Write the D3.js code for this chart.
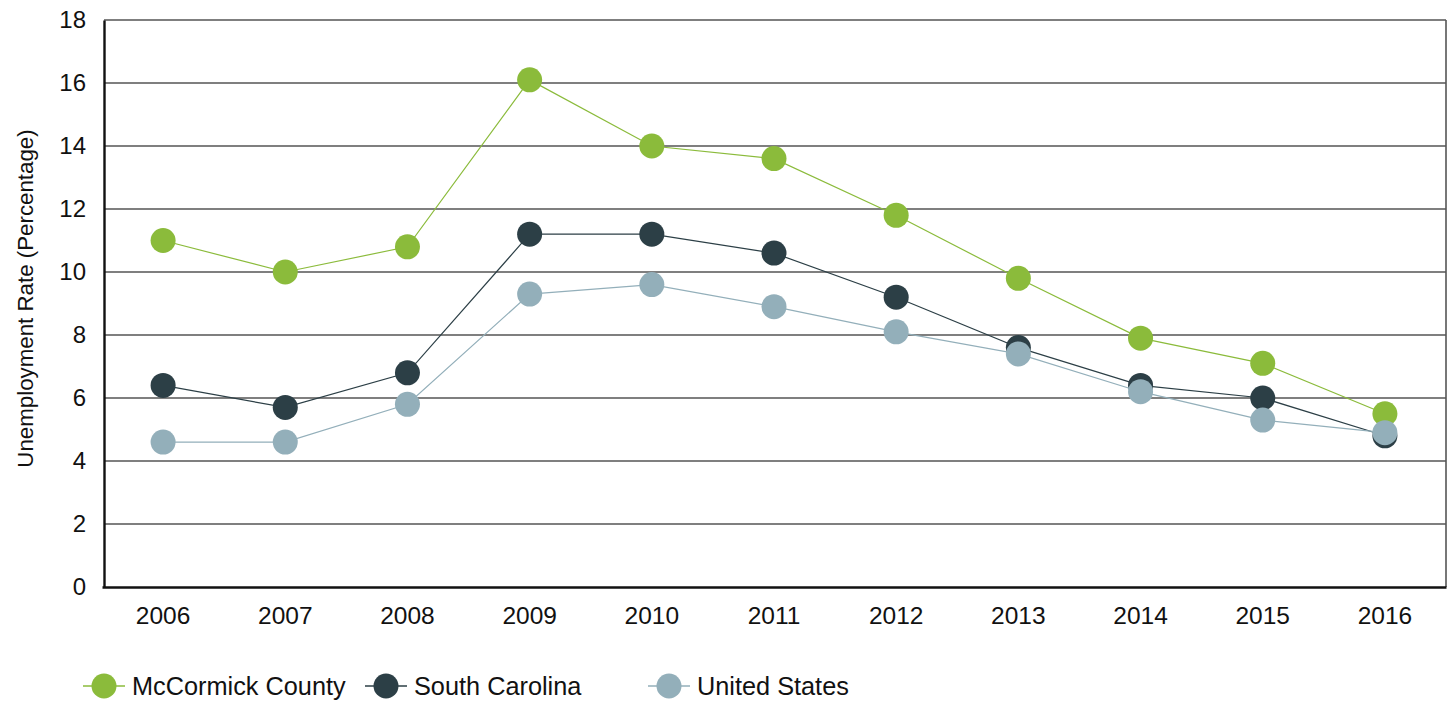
<!DOCTYPE html>
<html>
<head>
<meta charset="utf-8">
<script src="https://cdn.jsdelivr.net/npm/d3@7"></script>
<style>
  body { margin: 0; background: #fff; }
  svg { display: block; font-family: "Liberation Sans", Arial, sans-serif; }
</style>
</head>
<body>
<svg id="chart" width="1449" height="702"></svg>
<script>
// Annual unemployment rates, 2006–2016
const years = ["2006","2007","2008","2009","2010","2011","2012","2013","2014","2015","2016"];
const mccormick = [11.0, 10.0, 10.8, 16.1, 14.0, 13.6, 11.8, 9.8, 7.9, 7.1, 5.5];
const southCarolina = [6.4, 5.7, 6.8, 11.2, 11.2, 10.6, 9.2, 7.6, 6.4, 6.0, 4.8];
const unitedStates = [4.6, 4.6, 5.8, 9.3, 9.6, 8.9, 8.1, 7.4, 6.2, 5.3, 4.9];
const yTicks = [0, 2, 4, 6, 8, 10, 12, 14, 16, 18];
const seriesNames = ["McCormick County", "South Carolina", "United States"];
const seriesColors = ["#8bbb3b", "#2c3f46", "#93afba"];

const series = [mccormick, southCarolina, unitedStates].map((vals, i) => ({
  name: seriesNames[i], color: seriesColors[i], values: vals
}));

const svg = d3.select("#chart");
const plotLeft = 104, plotRight = 1446, plotTop = 20, plotBottom = 587;
const fontFam = "'Liberation Sans', Arial, sans-serif";

const x = d3.scaleBand().domain(years).range([plotLeft - 2, plotRight]);
const y = d3.scaleLinear().domain([0, 18]).range([plotBottom, plotTop]);

// horizontal gridlines
svg.append("g")
  .selectAll("line")
  .data(yTicks.filter(t => t > 0))
  .join("line")
  .attr("x1", plotLeft).attr("x2", plotRight)
  .attr("y1", d => y(d)).attr("y2", d => y(d))
  .attr("stroke", "#555").attr("stroke-width", 1.6);

// right border
svg.append("line")
  .attr("x1", plotRight).attr("x2", plotRight).attr("y1", plotTop).attr("y2", plotBottom)
  .attr("stroke", "#555").attr("stroke-width", 1.6);

// y axis
const yAxis = svg.append("g")
  .attr("transform", `translate(${plotLeft},0)`)
  .call(d3.axisLeft(y).tickValues(yTicks).tickSize(0).tickPadding(18).tickFormat(d3.format("d")));
yAxis.select(".domain").attr("stroke", "#111").attr("stroke-width", 2.4);
yAxis.selectAll("text").attr("font-size", 24).attr("fill", "#111")
  .attr("font-family", fontFam);

// x axis
const xAxis = svg.append("g")
  .attr("transform", `translate(0,${plotBottom})`)
  .call(d3.axisBottom(x).tickSize(0).tickPadding(20));
xAxis.select(".domain").attr("stroke", "#111").attr("stroke-width", 2.6);
xAxis.selectAll("text").attr("font-size", 24.5).attr("fill", "#111")
  .attr("font-family", fontFam);

// axis title
svg.append("text")
  .attr("transform", `translate(33,${(plotTop + plotBottom) / 2 - 5}) rotate(-90)`)
  .attr("text-anchor", "middle")
  .attr("font-size", 22.3)
  .attr("fill", "#111")
  .text("Unemployment Rate (Percentage)");

// lines and markers
const line = d3.line().x((d, i) => x(years[i]) + x.bandwidth() / 2).y(d => y(d));
series.forEach(s => {
  const g = svg.append("g");
  g.append("path")
    .attr("d", line(s.values))
    .attr("fill", "none")
    .attr("stroke", s.color)
    .attr("stroke-width", 1.2);
  g.selectAll("circle")
    .data(s.values)
    .join("circle")
    .attr("cx", (d, i) => x(years[i]) + x.bandwidth() / 2)
    .attr("cy", d => y(d))
    .attr("r", 12.5)
    .attr("fill", s.color);
});

// legend
const legendX = [104, 386, 669];
const legend = svg.append("g");
series.forEach((s, i) => {
  const lg = legend.append("g").attr("transform", `translate(${legendX[i]},686)`);
  lg.append("line").attr("x1", -21).attr("x2", 21).attr("stroke", s.color).attr("stroke-width", 1.5);
  lg.append("circle").attr("r", 12.5).attr("fill", s.color);
  lg.append("text")
    .attr("x", 28).attr("y", 9)
    .attr("font-size", 25.3)
    .attr("fill", "#111")
    .text(s.name);
});
</script>
</body>
</html>
